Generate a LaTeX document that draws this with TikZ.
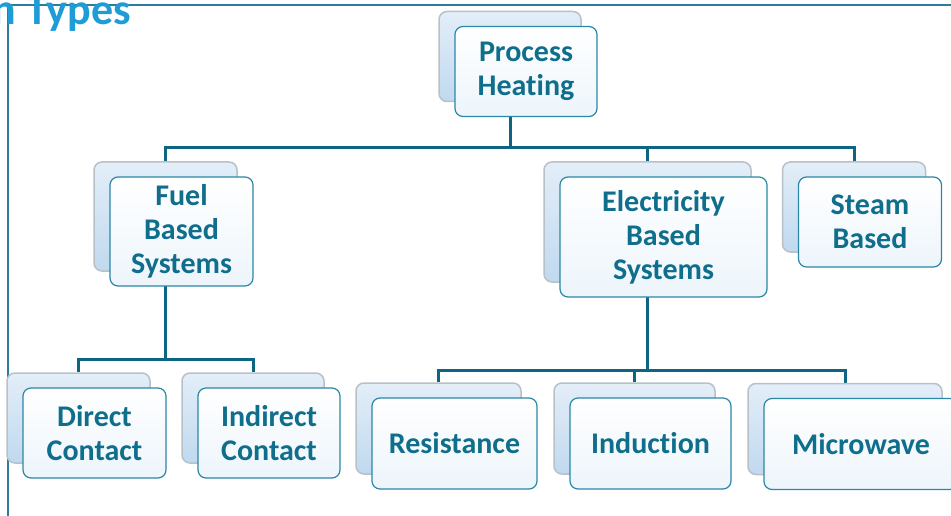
\documentclass[tikz,border=0pt]{standalone}
\usepackage{fontspec}
\setmainfont{Carlito}[Ligatures=NoCommon]
\usetikzlibrary{calc,backgrounds}
\definecolor{tealtxt}{HTML}{0F6E8C}
\definecolor{tealline}{HTML}{0E6583}
\definecolor{boxedge}{HTML}{2A87A6}
\definecolor{backedge}{HTML}{B8C0C8}
\definecolor{backtop}{HTML}{E3EEF8}
\definecolor{backbot}{HTML}{C0D9EF}
\definecolor{frontbot}{HTML}{EDF5FB}
\definecolor{heading}{HTML}{1E9CD8}
\definecolor{framecol}{HTML}{2B7D9A}
\tikzset{
 frontbox/.style={draw=boxedge, line width=1.2pt, rounded corners=8pt, top color=white, bottom color=frontbot, align=center, font=\fontsize{30}{34}\selectfont\bfseries, text=tealtxt, inner sep=0pt},
 backbox/.style={draw=backedge, line width=1.5pt, rounded corners=8pt, top color=backtop, bottom color=backbot},
 conn/.style={draw=tealline, line width=3pt},
 frameline/.style={draw=framecol, line width=1.5pt},
 headingtext/.style={text=heading, font=\fontsize{44}{50}\selectfont\bfseries, inner sep=0pt}
}
\newcommand\mybox[6]{%
 \node[backbox, minimum width=#4pt, minimum height=#5pt] (#1b) at (#2-16,#3-15) {};
 \node[frontbox, minimum width=#4pt, minimum height=#5pt] (#1) at (#2,#3) {#6};}
\begin{document}
\begin{tikzpicture}[x=1pt,y=-1pt]
\useasboundingbox (0,0) rectangle (951,516);
\mybox{ph}{526}{71.5}{142}{90}{Process\\Heating}
\mybox{fb}{181.5}{231.5}{143}{109}{Fuel\\Based\\Systems}
\mybox{eb}{663.5}{237}{207}{120}{Electricity\\Based\\Systems}
\mybox{sb}{870}{222}{143}{90}{Steam\\Based}
\mybox{dc}{94.5}{433}{143}{90}{Direct\\Contact}
\mybox{ic}{269}{433}{142}{90}{Indirect\\Contact}
\mybox{rs}{454.5}{443.5}{165}{91}{Resistance}
\mybox{id}{650.5}{443.5}{161}{91}{Induction}
\mybox{mw}{861}{444}{194}{91}{Microwave}
\node[headingtext, anchor=base east] (title) at (131,25) {n Types};
\begin{pgfonlayer}{background}
\draw[frameline] (951,5) -- (8,5) -- (8,516);
\coordinate (busA) at (0,148);
\coordinate (busB) at (0,359);
\coordinate (busC) at (0,370);
\draw[conn] (phb.south) -- (phb.south |- busA);
\draw[conn] (fbb.north) |- (sbb.north |- busA) -- (sbb.north);
\draw[conn] (ebb.north |- busA) -- (ebb.north);
\draw[conn] (fbb.south) -- (fbb.south |- busB);
\draw[conn] (dcb.north) |- (icb.north |- busB) -- (icb.north);
\draw[conn] (ebb.south) -- (ebb.south |- busC);
\draw[conn] (rsb.north) |- (mwb.north |- busC) -- (mwb.north);
\draw[conn] (idb.north |- busC) -- (idb.north);
\end{pgfonlayer}
\end{tikzpicture}
\end{document}
